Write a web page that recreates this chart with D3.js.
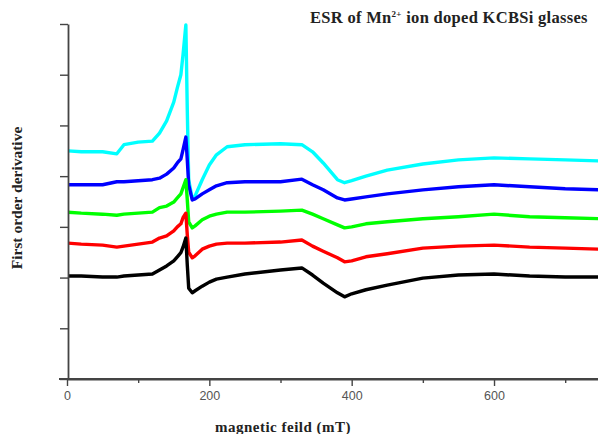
<!DOCTYPE html>
<html>
<head>
<meta charset="utf-8">
<script src="https://cdn.jsdelivr.net/npm/d3@7"></script>
<style>
  body { margin: 0; background: #fff; }
  svg { display: block; }
</style>
</head>
<body>
<div id="chart"></div>
<script>
var width = 598, height = 434;

// magnetic field (mT) sample points
var field = [0, 20, 50, 70, 80, 100, 120, 130, 140, 150, 155, 160, 163, 167, 169, 171, 176, 180,
  190, 200, 210, 225, 250, 300, 330, 345, 360, 380, 390, 400, 420, 450, 500, 550, 600, 650, 700, 750];

// first order derivative (arb. units, offset per sample)
var cyanVals = [4.50, 4.48, 4.48, 4.44, 4.62, 4.67, 4.69, 4.85, 5.09, 5.46, 5.74, 6.00, 6.39, 6.98, 5.31, 3.93, 3.55, 3.61,
  3.93, 4.22, 4.42, 4.58, 4.62, 4.64, 4.62, 4.48, 4.26, 3.93, 3.87, 3.91, 4.00, 4.12, 4.24, 4.32, 4.36, 4.34, 4.32, 4.30];
var blueVals = [3.83, 3.83, 3.83, 3.89, 3.89, 3.91, 3.93, 3.96, 4.04, 4.16, 4.26, 4.34, 4.52, 4.77, 4.32, 3.83, 3.53, 3.55,
  3.65, 3.73, 3.81, 3.87, 3.89, 3.89, 3.94, 3.83, 3.73, 3.57, 3.53, 3.55, 3.59, 3.65, 3.73, 3.79, 3.83, 3.79, 3.75, 3.73];
var greenVals = [3.29, 3.27, 3.25, 3.23, 3.25, 3.27, 3.29, 3.38, 3.41, 3.49, 3.57, 3.65, 3.77, 3.93, 3.53, 3.10, 2.98, 3.02,
  3.14, 3.21, 3.25, 3.29, 3.29, 3.31, 3.33, 3.25, 3.16, 3.04, 2.98, 3.00, 3.06, 3.10, 3.16, 3.20, 3.25, 3.20, 3.18, 3.16];
var redVals = [2.68, 2.66, 2.64, 2.60, 2.62, 2.66, 2.70, 2.78, 2.82, 2.92, 3.00, 3.06, 3.18, 3.27, 2.84, 2.50, 2.39, 2.43,
  2.56, 2.62, 2.66, 2.68, 2.68, 2.70, 2.74, 2.62, 2.52, 2.39, 2.31, 2.33, 2.41, 2.47, 2.58, 2.62, 2.64, 2.60, 2.58, 2.56];
var blackVals = [2.03, 2.03, 2.01, 2.01, 2.03, 2.05, 2.07, 2.15, 2.23, 2.33, 2.41, 2.49, 2.60, 2.78, 2.25, 1.79, 1.70, 1.74,
  1.83, 1.91, 1.97, 2.01, 2.07, 2.15, 2.19, 2.05, 1.89, 1.70, 1.62, 1.68, 1.76, 1.85, 1.99, 2.05, 2.07, 2.03, 2.01, 2.01];

var seriesColors = ["#00ffff", "#0000ff", "#00ff00", "#ff0000", "#000000"];
var xMajorTicks = [0, 200, 400, 600];
var xMinorTicks = [100, 300, 500, 700];
var yTicks = [0, 1, 2, 3, 4, 5, 6, 7];

var series = [cyanVals, blueVals, greenVals, redVals, blackVals];

var svg = d3.select("#chart")
    .append("svg")
    .attr("width", width)
    .attr("height", height);

var x = d3.scaleLinear().domain([0, 750]).range([67, 67 + 750 * 0.7117]);
var y = d3.scaleLinear().domain([0, 7]).range([379, 24]);

// clip to the visible area so the line stops at the picture edge
svg.append("clipPath").attr("id", "clip")
    .append("rect").attr("x", 68).attr("y", 0).attr("width", width - 68).attr("height", 379);

var line = d3.line()
    .x(function (d, i) { return x(field[i]); })
    .y(function (d) { return y(d); });

svg.append("g").selectAll(".trace")
    .data(series)
    .enter()
    .append("path")
    .attr("class", "trace")
    .attr("clip-path", "url(#clip)")
    .attr("d", line)
    .attr("fill", "none")
    .attr("stroke", function (d, i) { return seriesColors[i]; })
    .attr("stroke-width", 3.4)
    .attr("stroke-linejoin", "round");

// y axis, ticks only
svg.append("g")
    .attr("transform", "translate(68,0)")
    .call(d3.axisLeft(y).tickValues(yTicks).tickSize(8).tickFormat("").tickSizeOuter(0));

// x axis, major with labels
var xAxis = svg.append("g")
    .attr("transform", "translate(0,379)")
    .call(d3.axisBottom(x).tickValues(xMajorTicks).tickSize(7).tickSizeOuter(0).tickPadding(5));

svg.append("g")
    .attr("transform", "translate(0,379)")
    .call(d3.axisBottom(x).tickValues(xMinorTicks).tickSize(4).tickFormat("").tickSizeOuter(0))
    .select(".domain").remove();

svg.selectAll(".domain").attr("stroke", "#444").attr("stroke-width", 1.8);
svg.selectAll(".tick line").attr("stroke", "#444").attr("stroke-width", 1.4);
xAxis.selectAll("text")
    .attr("fill", "#555")
    .style("font-family", "Liberation Sans, Arial, sans-serif")
    .style("font-size", "12.5px");

// extend the x axis line to the left like the original
svg.append("line")
    .attr("x1", 59).attr("x2", width)
    .attr("y1", 379).attr("y2", 379)
    .attr("stroke", "#444").attr("stroke-width", 1.8);

// titles
var serif = "Liberation Serif, Times New Roman, serif";

var title = svg.append("text")
    .attr("x", 310).attr("y", 23)
    .style("font-family", serif)
    .style("font-weight", "bold")
    .style("font-size", "16.5px")
    .style("letter-spacing", "0.3px")
    .attr("fill", "#222");
title.append("tspan").text("ESR of Mn");
title.append("tspan").attr("dy", -6).style("font-size", "9px").text("2+");
title.append("tspan").attr("dy", 6).text(" ion doped KCBSi glasses");

svg.append("text")
    .attr("x", 283).attr("y", 432)
    .attr("text-anchor", "middle")
    .style("font-family", serif)
    .style("font-weight", "bold")
    .style("font-size", "15px")
    .style("letter-spacing", "0.5px")
    .attr("fill", "#222")
    .text("magnetic feild (mT)");

svg.append("text")
    .attr("transform", "translate(22,198) rotate(-90)")
    .attr("text-anchor", "middle")
    .style("font-family", serif)
    .style("font-weight", "bold")
    .style("font-size", "15.5px")
    .attr("fill", "#222")
    .text("First order derivative");
</script>
</body>
</html>
